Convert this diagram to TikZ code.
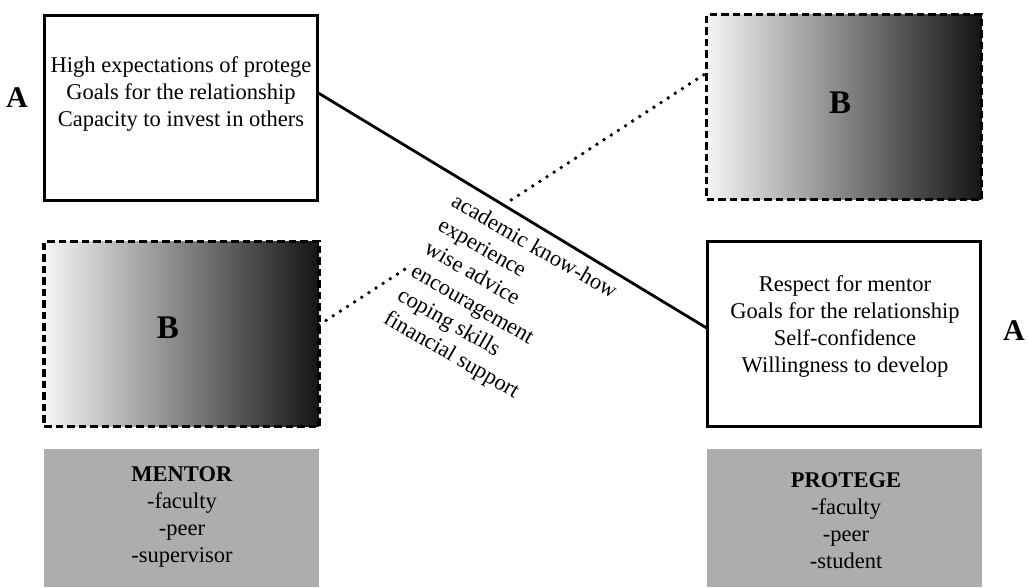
\documentclass[tikz,border=0pt]{standalone}
\usepackage{fontspec}
\setmainfont{Liberation Serif}
\usetikzlibrary{calc}
\definecolor{roleGray}{HTML}{ADADAD}
\begin{document}
\begin{tikzpicture}[x=1pt,y=-1pt,
  every node/.style={inner sep=0pt, outer sep=0pt},
  body/.style={font=\fontsize{22.5}{27}\selectfont, align=center},
  solidbox/.style={draw, line width=3pt, fill=white, minimum width=273pt, minimum height=185pt},
  shadebox/.style={draw, line width=3.2pt, dash pattern=on 7.5pt off 4pt,
    left color=black!4, right color=black!92, minimum width=275pt, minimum height=185pt},
  rolebox/.style={fill=roleGray, minimum width=275pt, minimum height=138pt},
  bigA/.style={font=\fontsize{30}{36}\selectfont\bfseries},
  bigB/.style={font=\fontsize{33}{40}\selectfont\bfseries},
  link/.style={line width=2.8pt},
  dotlink/.style={line width=3.8pt, line cap=round, dash pattern=on 0pt off 8.5pt},
]
\useasboundingbox (0,0) rectangle (1029,587);

% quality boxes (A) and shaded boxes (B)
\node[solidbox] (a1) at (181,107.5) {};
\node[shadebox] (b2) at (844,107) {};
\node[shadebox] (b1) at (181.5,334) {};
\node[solidbox] (a2) at (844,333.5) {};

\node[body] (a1txt) at (181,94.3)
  {High expectations of protege\\Goals for the relationship\\Capacity to invest in others};
\node[body] (a2txt) at (845,326.5)
  {Respect for mentor\\Goals for the relationship\\Self-confidence\\Willingness to develop};

\node[bigB] (b2lab) at (840,103) {B};
\node[bigB] (b1lab) at (168,328) {B};
\node[bigA] (aleft) at (17,98) {A};
\node[bigA] (aright) at (1014,331) {A};

% role boxes
\node[rolebox] (mbox) at (181.5,518) {};
\node[rolebox] (pbox) at (844.5,518) {};
\node[body] (mtxt) at (182,516.5) {\textbf{MENTOR}\\-faculty\\-peer\\-supervisor};
\node[body] (ptxt) at (846,521) {\textbf{PROTEGE}\\-faculty\\-peer\\-student};

% B -- B link, partly hidden by the list of benefits
\draw[dotlink] ([yshift=9pt]b1.east) -- ([yshift=34pt]b2.west);
\node[body, align=left, rotate=-30, fill=white, inner xsep=5pt, inner ysep=18pt,
  anchor=north west] (gifts) at (462.7,174.1)
  {academic know-how\\experience\\wise advice\\encouragement\\coping skills\\financial support};

% A -- A link
\draw[link] ([yshift=15pt]a1.east) -- ([yshift=5pt]a2.west);
\end{tikzpicture}
\end{document}
